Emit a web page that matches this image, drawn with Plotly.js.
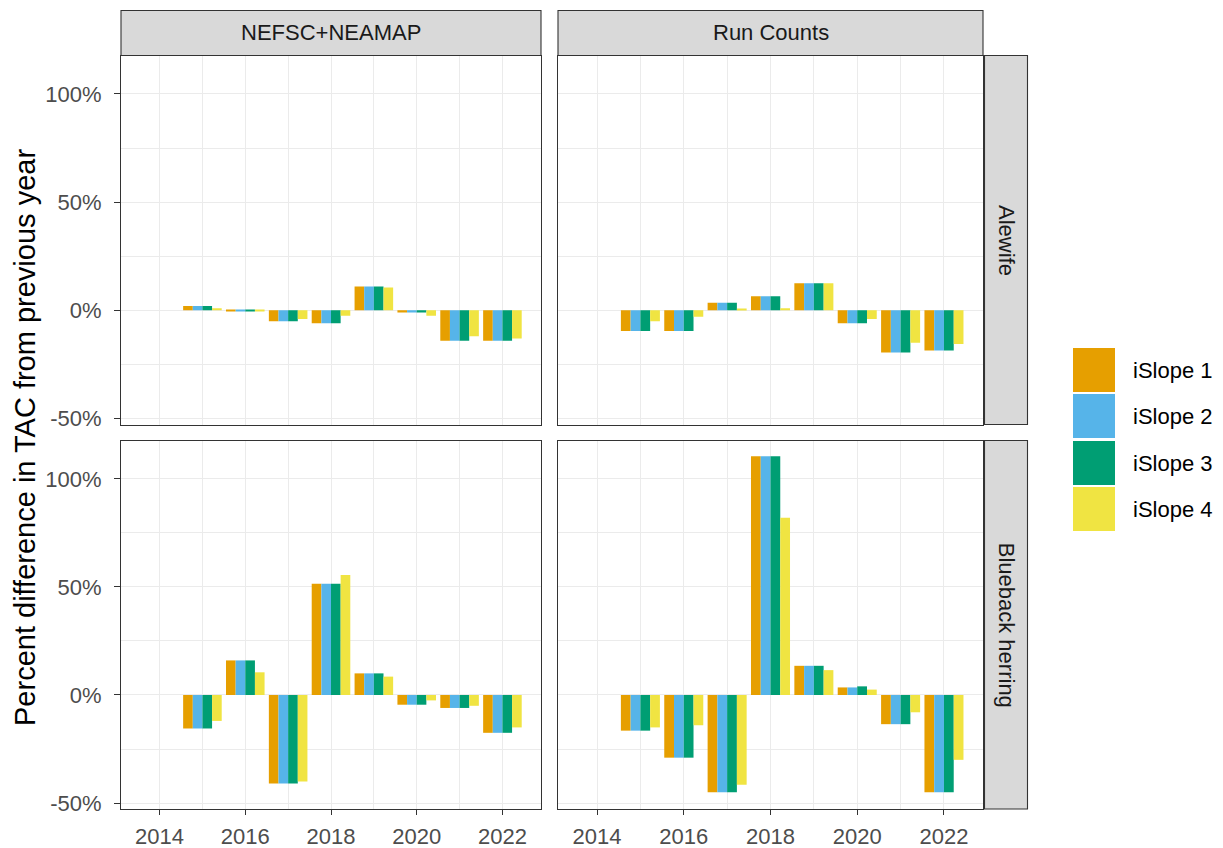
<!DOCTYPE html>
<html>
<head>
<meta charset="utf-8">
<script src="https://cdn.plot.ly/plotly-3.0.1.min.js"></script>
<style>html,body{margin:0;padding:0;background:#fff;}#chart{width:1223px;height:848px;}</style>
</head>
<body>
<div id="chart"></div>
<script>
// ---- data ----
const years = [2014, 2015, 2016, 2017, 2018, 2019, 2020, 2021, 2022];
const seriesNames = ['iSlope 1', 'iSlope 2', 'iSlope 3', 'iSlope 4'];
const seriesColors = ['#E69F00', '#56B4E9', '#009E73', '#F0E442'];
const surveyLabels = ['NEFSC+NEAMAP', 'Run Counts'];
const speciesLabels = ['Alewife', 'Blueback herring'];

// Alewife, NEFSC+NEAMAP
const aleNefsc1 = [0, 2, -0.5, -5, -6, 11, -1, -14, -14];
const aleNefsc2 = [0, 2, -0.5, -5, -6, 11, -1, -14, -14];
const aleNefsc3 = [0, 2, -0.5, -5, -6, 11, -1, -14, -14];
const aleNefsc4 = [0, 1, -0.3, -4, -2.5, 10.5, -2.5, -12, -13];
// Alewife, Run Counts
const aleRun1 = [0, -9.5, -9.5, 3.5, 6.5, 12.5, -6, -19.5, -18.5];
const aleRun2 = [0, -9.5, -9.5, 3.5, 6.5, 12.5, -6, -19.5, -18.5];
const aleRun3 = [0, -9.5, -9.5, 3.5, 6.5, 12.5, -6, -19.5, -18.5];
const aleRun4 = [0, -5, -3, 0.5, 1, 12.5, -4, -15, -15.5];
// Blueback herring, NEFSC+NEAMAP
const bbhNefsc1 = [0, -15.5, 16, -41, 51.5, 10, -4.5, -6, -17.5];
const bbhNefsc2 = [0, -15.5, 16, -41, 51.5, 10, -4.5, -6, -17.5];
const bbhNefsc3 = [0, -15.5, 16, -41, 51.5, 10, -4.5, -6, -17.5];
const bbhNefsc4 = [0, -12, 10.5, -40, 55.5, 8.5, -2.5, -5, -15];
// Blueback herring, Run Counts
const bbhRun1 = [0, -16.5, -29, -45, 110.5, 13.5, 3.5, -13.5, -45];
const bbhRun2 = [0, -16.5, -29, -45, 110.5, 13.5, 3.5, -13.5, -45];
const bbhRun3 = [0, -16.5, -29, -45, 110.5, 13.5, 4, -13.5, -45];
const bbhRun4 = [0, -15, -14, -41.5, 82, 11.5, 2.5, -8, -30];

const yTickVals = [-50, 0, 50, 100];
const yTickText = ['-50%', '0%', '50%', '100%'];
const yMinorVals = [-25, 25, 75];
const xTickVals = [2014, 2016, 2018, 2020, 2022];
const xTickText = ['2014', '2016', '2018', '2020', '2022'];
const xMinorVals = [2015, 2017, 2019, 2021];
const yTitle = 'Percent difference in TAC from previous year';

// ---- layout helpers ----
const W = 1223, H = 848;
const px = v => v / W;
const py = v => 1 - v / H;
const FONT = 'Liberation Sans, Arial, Helvetica, sans-serif';
const FS = 22;

const colX = [[121, 541], [558, 983]];
const rowY = [[55.5, 424.5], [440.5, 809]];

const panels = [
  {row: 0, col: 0, data: [aleNefsc1, aleNefsc2, aleNefsc3, aleNefsc4]},
  {row: 0, col: 1, data: [aleRun1, aleRun2, aleRun3, aleRun4]},
  {row: 1, col: 0, data: [bbhNefsc1, bbhNefsc2, bbhNefsc3, bbhNefsc4]},
  {row: 1, col: 1, data: [bbhRun1, bbhRun2, bbhRun3, bbhRun4]}
];

const traces = [];
const layout = {
  width: W, height: H,
  margin: {l: 0, r: 0, t: 0, b: 0},
  paper_bgcolor: '#ffffff',
  plot_bgcolor: '#ffffff',
  barmode: 'group',
  bargap: 0.1,
  bargroupgap: 0,
  showlegend: false,
  font: {family: FONT, size: FS, color: '#4D4D4D'},
  shapes: [],
  annotations: []
};

panels.forEach((p, i) => {
  const n = i === 0 ? '' : String(i + 1);
  const xa = 'x' + n, ya = 'y' + n;
  p.data.forEach((vals, s) => {
    traces.push({
      type: 'bar', x: years, y: vals, name: seriesNames[s],
      xaxis: xa, yaxis: ya,
      marker: {color: seriesColors[s], line: {width: 0}},
      hoverinfo: 'x+y+name'
    });
  });
  const showX = p.row === 1, showY = p.col === 0;
  layout['xaxis' + n] = {
    domain: [px(colX[p.col][0]), px(colX[p.col][1])],
    anchor: ya,
    range: [2013.1, 2022.9],
    tickmode: 'array', tickvals: xTickVals, ticktext: xTickText,
    showticklabels: showX,
    ticks: showX ? 'outside' : '', ticklen: 5, tickwidth: 1.1, tickcolor: '#333333',
    ticklabelstandoff: 3,
    tickfont: {family: FONT, size: FS, color: '#4D4D4D'},
    showgrid: true, gridcolor: '#EBEBEB', gridwidth: 1.1,
    minor: {tickmode: 'array', tickvals: xMinorVals, showgrid: true, gridcolor: '#EBEBEB', gridwidth: 0.6, ticks: ''},
    zeroline: false,
    showline: true, mirror: true, linecolor: '#333333', linewidth: 1.1,
    fixedrange: true
  };
  layout['yaxis' + n] = {
    domain: [py(rowY[p.row][1]), py(rowY[p.row][0])],
    anchor: xa,
    range: [-52.75, 117.75],
    tickmode: 'array', tickvals: yTickVals, ticktext: yTickText,
    showticklabels: showY,
    ticks: showY ? 'outside' : '', ticklen: 6, tickwidth: 1.1, tickcolor: '#333333',
    ticklabelstandoff: 8,
    tickfont: {family: FONT, size: FS, color: '#4D4D4D'},
    showgrid: true, gridcolor: '#EBEBEB', gridwidth: 1.1,
    minor: {tickmode: 'array', tickvals: yMinorVals, showgrid: true, gridcolor: '#EBEBEB', gridwidth: 0.6, ticks: ''},
    zeroline: false,
    showline: true, mirror: true, linecolor: '#333333', linewidth: 1.1,
    fixedrange: true
  };
});

// strips: top (survey)
surveyLabels.forEach((lab, c) => {
  layout.shapes.push({
    type: 'rect', xref: 'paper', yref: 'paper',
    x0: px(colX[c][0]), x1: px(colX[c][1]), y0: py(55.5), y1: py(10.5),
    fillcolor: '#D9D9D9', line: {color: '#333333', width: 1.1}, layer: 'above'
  });
  layout.annotations.push({
    xref: 'paper', yref: 'paper', x: px((colX[c][0] + colX[c][1]) / 2), y: py(33),
    text: lab, showarrow: false, xanchor: 'center', yanchor: 'middle',
    font: {family: FONT, size: FS, color: '#1A1A1A'}
  });
});
// strips: right (species)
speciesLabels.forEach((lab, r) => {
  layout.shapes.push({
    type: 'rect', xref: 'paper', yref: 'paper',
    x0: px(984.5), x1: px(1027.5), y0: py(rowY[r][1]), y1: py(rowY[r][0]),
    fillcolor: '#D9D9D9', line: {color: '#333333', width: 1.1}, layer: 'above'
  });
  layout.annotations.push({
    xref: 'paper', yref: 'paper', x: px(1006), y: py((rowY[r][0] + rowY[r][1]) / 2),
    text: lab, showarrow: false, textangle: 90, xanchor: 'center', yanchor: 'middle',
    font: {family: FONT, size: FS, color: '#1A1A1A'}
  });
});

// y axis title
layout.annotations.push({
  xref: 'paper', yref: 'paper', x: px(25), y: py(438),
  text: yTitle, showarrow: false, textangle: -90, xanchor: 'center', yanchor: 'middle',
  font: {family: FONT, size: 29, color: '#000000'}
});

// legend (drawn keys)
const keyCenters = [370, 416, 463, 509];
seriesNames.forEach((nm, s) => {
  layout.shapes.push({
    type: 'rect', xref: 'paper', yref: 'paper',
    x0: px(1073), x1: px(1115), y0: py(keyCenters[s] + 22), y1: py(keyCenters[s] - 22),
    fillcolor: seriesColors[s], line: {width: 0}
  });
  layout.annotations.push({
    xref: 'paper', yref: 'paper', x: px(1131), y: py(keyCenters[s]),
    text: nm, showarrow: false, xanchor: 'left', yanchor: 'middle',
    font: {family: FONT, size: FS, color: '#000000'}
  });
});

Plotly.newPlot('chart', traces, layout, {displayModeBar: false, responsive: false});
</script>
</body>
</html>
